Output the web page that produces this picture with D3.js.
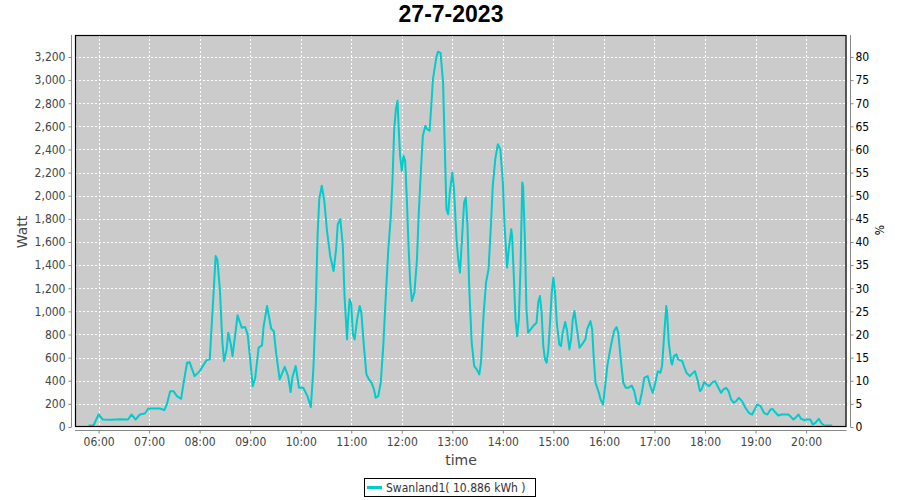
<!DOCTYPE html>
<html><head><meta charset="utf-8">
<script src="https://cdn.jsdelivr.net/npm/d3@7"></script>
<style>
body{margin:0;background:#fff}
text{font-family:"DejaVu Sans Condensed","DejaVu Sans",sans-serif}
</style>
</head><body>
<svg id="c" width="900" height="500"></svg>
<script>
const chartTitle = "27-7-2023";
const seriesName = "Swanland1( 10.886 kWh )";
const times = ["05:48","05:54","06:00","06:05","06:15","06:25","06:35","06:39","06:44","06:49","06:55","06:59","07:13","07:18","07:21","07:25","07:29","07:33","07:38","07:40","07:45","07:48","07:54","08:00","08:08","08:12","08:14","08:17","08:19","08:21","08:24","08:27","08:29","08:32","08:34","08:37","08:39","08:42","08:45","08:50","08:54","08:57","09:00","09:03","09:06","09:10","09:14","09:16","09:20","09:22","09:25","09:28","09:31","09:35","09:41","09:45","09:48","09:50","09:54","09:58","10:03","10:08","10:12","10:15","10:18","10:20","10:22","10:25","10:28","10:31","10:35","10:39","10:42","10:44","10:47","10:50","10:52","10:55","10:56","10:58","11:00","11:02","11:04","11:07","11:10","11:12","11:15","11:18","11:21","11:24","11:27","11:29","11:32","11:35","11:38","11:41","11:44","11:47","11:49","11:51","11:53","11:55","11:56","11:58","12:00","12:02","12:04","12:06","12:08","12:10","12:12","12:15","12:18","12:20","12:23","12:25","12:28","12:30","12:33","12:35","12:37","12:41","12:43","12:46","12:49","12:51","12:53","12:55","12:57","13:00","13:02","13:05","13:07","13:09","13:11","13:14","13:16","13:18","13:20","13:23","13:26","13:29","13:32","13:34","13:37","13:40","13:43","13:46","13:48","13:51","13:54","13:57","14:00","14:02","14:04","14:05","14:07","14:10","14:11","14:13","14:15","14:17","14:19","14:21","14:23","14:24","14:26","14:28","14:30","14:33","14:36","14:40","14:42","14:44","14:46","14:48","14:50","14:52","14:54","14:56","14:58","15:00","15:02","15:04","15:07","15:09","15:11","15:14","15:16","15:19","15:21","15:23","15:25","15:28","15:31","15:34","15:38","15:40","15:44","15:46","15:48","15:50","15:54","15:56","15:59","16:01","16:04","16:06","16:09","16:12","16:15","16:17","16:20","16:23","16:26","16:29","16:33","16:36","16:39","16:42","16:45","16:48","16:52","16:55","16:58","17:01","17:04","17:07","17:09","17:12","17:14","17:15","17:17","17:20","17:21","17:23","17:26","17:28","17:33","17:35","17:38","17:42","17:44","17:48","17:51","17:54","17:56","17:59","18:02","18:05","18:09","18:12","18:15","18:19","18:22","18:25","18:28","18:31","18:34","18:37","18:40","18:44","18:48","18:52","18:56","18:59","19:02","19:06","19:10","19:14","19:18","19:20","19:24","19:27","19:31","19:35","19:39","19:42","19:45","19:48","19:51","19:54","19:58","20:01","20:05","20:08","20:11","20:15","20:18","20:21","20:31"];
const watts = [0,0,95,52,50,55,52,95,52,95,104,147,147,133,182,297,297,254,231,326,543,548,427,470,563,572,831,1206,1466,1437,1178,716,557,658,803,701,600,773,953,846,851,788,572,340,413,673,693,860,1033,953,837,817,615,398,508,427,289,413,514,326,326,254,159,485,1063,1640,1957,2073,1943,1697,1466,1336,1524,1741,1784,1553,1120,745,889,1091,1048,788,745,918,1033,976,687,442,398,370,312,240,254,370,687,1120,1524,1813,2130,2563,2737,2808,2621,2332,2202,2332,2289,1957,1553,1236,1076,1149,1438,1813,2246,2505,2592,2563,2550,2765,2996,3184,3233,3222,2967,2419,1870,1827,2015,2188,2044,1611,1438,1322,1553,1928,1972,1726,1206,716,514,485,442,543,947,1236,1351,1755,2073,2304,2433,2390,2102,1726,1496,1366,1524,1697,1640,1293,918,773,918,1380,2102,2073,1640,1005,803,831,860,889,1063,1120,976,687,572,543,658,889,1149,1279,1149,889,701,687,803,895,831,658,745,918,990,831,673,701,745,831,903,831,572,370,283,225,182,312,514,600,716,817,851,803,572,370,326,326,346,297,197,182,283,413,427,340,283,370,470,456,514,831,1033,976,716,543,528,600,615,572,557,514,456,427,442,470,398,297,312,375,355,340,375,384,340,283,312,326,297,225,197,211,240,211,153,110,95,139,182,168,110,95,139,144,110,87,95,95,95,75,52,72,95,58,46,52,52,9,23,58,23,0,0];
const hourTicks = ["06:00","07:00","08:00","09:00","10:00","11:00","12:00","13:00","14:00","15:00","16:00","17:00","18:00","19:00","20:00"];
const wattTicks = [0,200,400,600,800,1000,1200,1400,1600,1800,2000,2200,2400,2600,2800,3000,3200];
const pctTicks = [0,5,10,15,20,25,30,35,40,45,50,55,60,65,70,75,80];
const xDomain = ["05:32","20:48"];
const wattMax = 3390;
const wattPerPct = 40;

const parse = d3.timeParse("%H:%M");
const fmt = d3.timeFormat("%H:%M");
const P = {l:75, r:846.5, t:35, b:427};
const svg = d3.select("#c");

const x = d3.scaleTime().domain(xDomain.map(parse)).range([P.l, P.r]);
const y = d3.scaleLinear().domain([0, wattMax]).range([P.b, P.t]);
const y2 = d3.scaleLinear().domain([0, wattMax / wattPerPct]).range([P.b, P.t]);

// title
svg.append("text").attr("x", 451).attr("y", 22).attr("text-anchor","middle")
  .style("font-family","'Liberation Sans',Arial,sans-serif").style("font-weight","bold")
  .style("font-size","23px").attr("fill","#000").text(chartTitle);

// plot background
svg.append("rect").attr("x",P.l).attr("y",P.t).attr("width",P.r-P.l).attr("height",P.b-P.t).attr("fill","#cbcbcb");

// gridlines
const grid = svg.append("g").attr("stroke","#fff").attr("stroke-width",1).attr("stroke-dasharray","2,2");
grid.selectAll("line.h").data(wattTicks.filter(d=>d>0)).join("line")
  .attr("x1",P.l).attr("x2",P.r).attr("y1",d=>Math.round(y(d))+0.5).attr("y2",d=>Math.round(y(d))+0.5);
grid.selectAll("line.v").data(hourTicks.map(parse)).join("line")
  .attr("y1",P.t).attr("y2",P.b).attr("x1",d=>Math.round(x(d))+0.5).attr("x2",d=>Math.round(x(d))+0.5);

// clip + line
svg.append("clipPath").attr("id","clip").append("rect").attr("x",P.l).attr("y",P.t-2).attr("width",P.r-P.l).attr("height",P.b-P.t+1);
const data = times.map((t,i)=>({t:parse(t), v:watts[i]}));
svg.append("path").datum(data).attr("clip-path","url(#clip)")
  .attr("fill","none").attr("stroke","#00cccc").attr("stroke-width",2).attr("stroke-linejoin","round")
  .attr("d", d3.line().x(d=>x(d.t)).y(d=>y(d.v)-1.5));

// plot border
svg.append("rect").attr("x",P.l+0.5).attr("y",P.t+0.5).attr("width",P.r-P.l-1).attr("height",P.b-P.t-1)
  .attr("fill","none").attr("stroke","#000").attr("stroke-width",1.2);

// left axis
const gl = svg.append("g").attr("transform",`translate(71.5,0)`)
  .call(d3.axisLeft(y).tickValues(wattTicks).tickSize(3).tickPadding(3).tickFormat(d3.format(",")).tickSizeOuter(0));
gl.select(".domain").attr("stroke","#888").attr("d",`M0,${P.t}V${P.b}`);
gl.selectAll(".tick line").attr("stroke","#888");
gl.selectAll(".tick text").attr("fill","#444").style("font-size","12px");

// right axis
const gr = svg.append("g").attr("transform",`translate(850.5,0)`)
  .call(d3.axisRight(y2).tickValues(pctTicks).tickSize(3).tickPadding(2).tickSizeOuter(0));
gr.select(".domain").attr("stroke","#888").attr("d",`M0,${P.t}V${P.b}`);
gr.selectAll(".tick line").attr("stroke","#888");
gr.selectAll(".tick text").attr("fill","#000").style("font-size","12px");

// bottom axis
const gb = svg.append("g").attr("transform",`translate(0,430.5)`)
  .call(d3.axisBottom(x).tickValues(hourTicks.map(parse)).tickFormat(fmt).tickSize(3).tickPadding(4).tickSizeOuter(0));
gb.select(".domain").attr("stroke","#888").attr("d",`M${P.l},0H${P.r}`);
gb.selectAll(".tick line").attr("stroke","#888");
gb.selectAll(".tick text").attr("fill","#444").style("font-size","12px");

// axis labels
svg.append("text").attr("transform","translate(27,232) rotate(-90)").attr("text-anchor","middle")
  .attr("fill","#444").style("font-family","'DejaVu Sans',sans-serif").style("font-size","14px").text("Watt");
svg.append("text").attr("x",461).attr("y",465).attr("text-anchor","middle")
  .attr("fill","#444").style("font-family","'DejaVu Sans',sans-serif").style("font-size","14px").text("time");
svg.append("text").attr("transform","translate(884,230) rotate(-90)").attr("text-anchor","middle")
  .attr("fill","#000").style("font-size","12px").text("%");

// legend
const lg = svg.append("g");
lg.append("rect").attr("x",364.5).attr("y",478.5).attr("width",171).attr("height",18).attr("fill","#fff").attr("stroke","#000");
lg.append("line").attr("x1",367).attr("x2",382).attr("y1",487.5).attr("y2",487.5).attr("stroke","#00cccc").attr("stroke-width",3);
lg.append("text").attr("x",386).attr("y",492).attr("fill","#333").style("font-size","12px").text(seriesName);
</script>
</body></html>
